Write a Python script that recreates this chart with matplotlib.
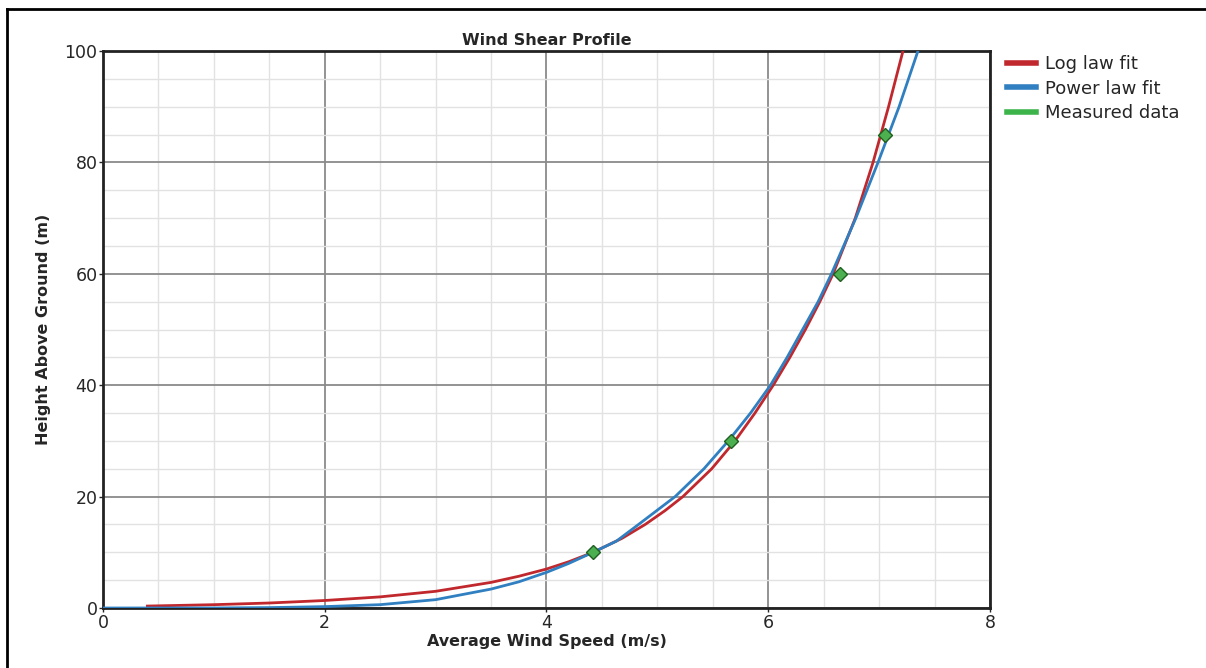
import matplotlib
matplotlib.use("Agg")
import matplotlib.pyplot as plt
from matplotlib.lines import Line2D
from matplotlib.ticker import MultipleLocator

plt.rcParams['font.family'] = ['DejaVu Sans']
plt.rcParams['text.color'] = '#262626'
plt.rcParams['axes.labelcolor'] = '#262626'
plt.rcParams['xtick.color'] = '#262626'
plt.rcParams['ytick.color'] = '#262626'

# values
log_speed = [0.4, 1.0, 1.5, 2.0, 2.5, 3.0, 3.5, 3.75, 4.0, 4.2, 4.42, 4.68, 4.89, 5.07,
             5.23, 5.49, 5.70, 5.88, 6.045, 6.195, 6.335, 6.465, 6.585, 6.785, 6.945, 7.085, 7.215]
log_height = [0.35, 0.6, 0.9, 1.35, 2.0, 3.0, 4.6, 5.7, 7.0, 8.3, 10.0, 12.5, 15, 17.5,
              20, 25, 30, 35, 40, 45, 50, 55, 60, 70, 80, 90, 100]

pow_speed = [0.0, 1.0, 1.5, 2.0, 2.5, 3.0, 3.5, 3.75, 4.0, 4.2, 4.42, 4.63, 4.83, 5.16,
             5.42, 5.64, 5.84, 6.02, 6.17, 6.31, 6.45, 6.57, 6.79, 6.99, 7.18, 7.35]
pow_height = [0.0, 0.01, 0.07, 0.25, 0.6, 1.5, 3.4, 4.7, 6.4, 8.0, 10.0, 12, 15, 20,
              25, 30, 35, 40, 45, 50, 55, 60, 70, 80, 90, 100]

meas_speed = [4.42, 5.66, 6.65, 7.05]
meas_height = [10, 30, 60, 85]

red = '#c0282d'
blue = '#2f7fc1'
green = '#3cb44a'

fig = plt.figure(figsize=(12.06, 6.68), dpi=100)
ax = fig.add_axes([0.0854, 0.0898, 0.7355, 0.8338])

ax.set_xlim(0, 8)
ax.set_ylim(0, 100)
ax.xaxis.set_major_locator(MultipleLocator(2))
ax.xaxis.set_minor_locator(MultipleLocator(0.5))
ax.yaxis.set_major_locator(MultipleLocator(20))
ax.yaxis.set_minor_locator(MultipleLocator(5))
ax.grid(which='minor', color='#e2e2e2', lw=1.0)
ax.grid(which='major', color='#8a8a8a', lw=1.3)
ax.set_axisbelow(True)
ax.tick_params(which='major', length=3, width=1, labelsize=12.5, pad=1)
ax.tick_params(which='minor', length=0)
for s in ax.spines.values():
    s.set_linewidth(2)
    s.set_color('#222222')

ax.plot(log_speed, log_height, color=red, lw=2, zorder=3)
ax.plot(pow_speed, pow_height, color=blue, lw=2, zorder=3)
ax.plot(meas_speed, meas_height, ls='none', marker='D', ms=7,
        mfc='#4caf50', mec='#1f5f1f', mew=1, zorder=4)

ax.set_title('Wind Shear Profile', fontsize=11.5, fontweight='bold', pad=4)
ax.set_xlabel('Average Wind Speed (m/s)', fontsize=11.5, fontweight='bold', labelpad=2)
ax.set_ylabel('Height Above Ground (m)', fontsize=11.5, fontweight='bold', labelpad=10)

handles = [Line2D([], [], color=red, lw=4),
           Line2D([], [], color=blue, lw=4),
           Line2D([], [], color=green, lw=4)]
fig.legend(handles, ['Log law fit', 'Power law fit', 'Measured data'],
           loc='upper left', bbox_to_anchor=(0.829, 0.928), frameon=False,
           fontsize=13, handlelength=1.6, handletextpad=0.5, labelspacing=0.35,
           borderaxespad=0)

# frame edges of the cropped screenshot
fig.add_artist(Line2D([7 / 1206, 7 / 1206], [0, 1 - 9 / 668], color='black', lw=2))
fig.add_artist(Line2D([7 / 1206, 1], [1 - 9 / 668, 1 - 9 / 668], color='black', lw=2))

fig.savefig('out.png', dpi=100)
